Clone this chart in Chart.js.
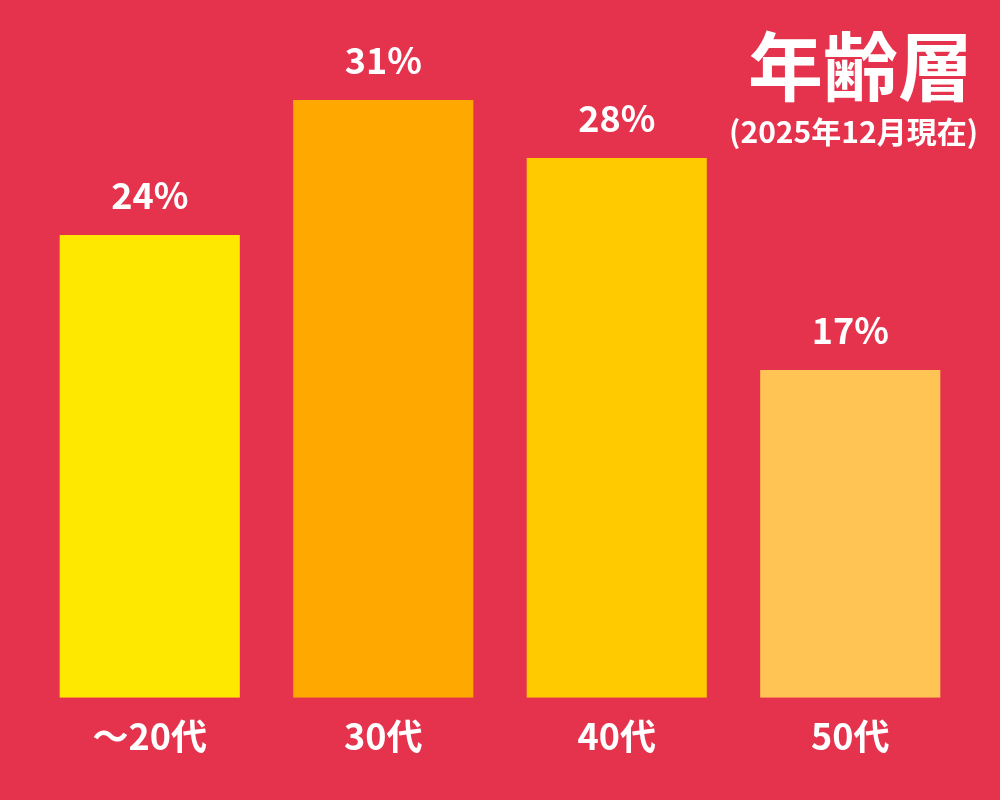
<!DOCTYPE html>
<html>
<head>
<meta charset="utf-8">
<script src="https://cdn.jsdelivr.net/npm/chart.js@4"></script>
<style>
  html, body { margin: 0; padding: 0; background: #E5334D; }
  #wrap { width: 1000px; height: 800px; position: relative; }
</style>
</head>
<body>
<div id="wrap"><canvas id="ageChart"></canvas></div>
<script>
const categories = ['～20代', '30代', '40代', '50代'];
const shares = [24, 31, 28, 17];
const barColors = ['#FFE800', '#FFA800', '#FFCA00', '#FFC454'];
const chartTitle = '年齢層';
const chartSubtitle = '(2025年12月現在)';

const FONT = '"Noto Sans CJK JP", "Noto Sans", sans-serif';

// labels above bars + title in the corner
const labelPlugin = {
    id: 'labels',
    afterDatasetsDraw(chart) {
        const ctx = chart.ctx;
        const meta = chart.getDatasetMeta(0);
        ctx.save();
        ctx.fillStyle = '#fff';
        ctx.textAlign = 'center';
        ctx.textBaseline = 'middle';
        ctx.font = 'bold 36px ' + FONT;
        meta.data.forEach((bar, i) => {
            ctx.fillText(shares[i] + '%', bar.x, bar.y - 40);
        });
        ctx.textAlign = 'right';
        ctx.font = 'bold 75px ' + FONT;
        ctx.fillText(chartTitle, 973, 66);
        ctx.font = 'bold 30px ' + FONT;
        ctx.fillText(chartSubtitle, 978, 132);
        ctx.restore();
    }
};

new Chart(document.getElementById('ageChart').getContext('2d'), {
    type: 'bar',
    data: {
        labels: categories,
        datasets: [{
            data: shares,
            backgroundColor: barColors,
            borderWidth: 0,
            categoryPercentage: 1,
            barPercentage: 0.7714
        }]
    },
    options: {
        responsive: true,
        maintainAspectRatio: false,
        animation: false,
        layout: { padding: { left: 33, right: 33, top: 23, bottom: 33 } },
        plugins: {
            legend: { display: false },
            tooltip: { enabled: false }
        },
        scales: {
            x: {
                grid: { display: false },
                border: { display: false },
                ticks: {
                    color: '#fff',
                    padding: 9,
                    font: { family: FONT, size: 36, weight: 'bold' }
                }
            },
            y: {
                display: false,
                min: 0,
                max: 35
            }
        }
    },
    plugins: [labelPlugin]
});
</script>
</body>
</html>
